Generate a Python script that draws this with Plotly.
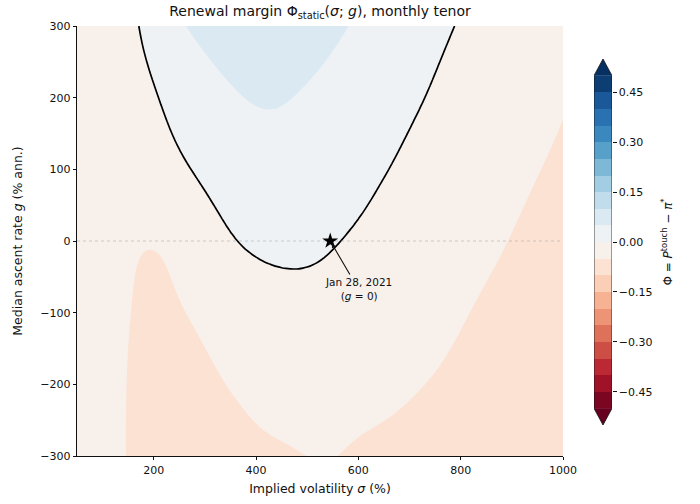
import numpy as np
import plotly.graph_objects as go

# ---- data: renewal margin Phi on an (implied vol, median ascent rate) grid ----
sigma = [50, 100, 150, 200, 250, 300, 350, 400, 450, 500,
         550, 600, 650, 700, 750, 800, 850, 900, 950, 1000]
g_rate = [-300, -250, -200, -150, -100, -50, 0, 50, 100, 150, 200, 250, 300]

phi_gm300 = [-0.018, -0.040, -0.0505, -0.063, -0.068, -0.068, -0.064, -0.058, -0.055, -0.0495,
             -0.0465, -0.057, -0.060, -0.063, -0.066, -0.069, -0.072, -0.075, -0.078, -0.081]
phi_gm250 = [-0.018, -0.040, -0.0502, -0.064, -0.068, -0.065, -0.058, -0.048, -0.043, -0.0405,
             -0.0405, -0.045, -0.049, -0.054, -0.058, -0.062, -0.066, -0.070, -0.074, -0.077]
phi_gm200 = [-0.018, -0.040, -0.0497, -0.064, -0.066, -0.059, -0.047, -0.040, -0.034, -0.031,
             -0.032, -0.036, -0.041, -0.047, -0.052, -0.057, -0.062, -0.067, -0.071, -0.075]
phi_gm150 = [-0.018, -0.039, -0.0495, -0.062, -0.061, -0.0505, -0.039, -0.030, -0.023, -0.021,
             -0.023, -0.028, -0.034, -0.040, -0.046, -0.0525, -0.058, -0.063, -0.068, -0.073]
phi_gm100 = [-0.018, -0.038, -0.049, -0.058, -0.053, -0.042, -0.029, -0.019, -0.013, -0.011,
             -0.014, -0.020, -0.027, -0.034, -0.041, -0.048, -0.054, -0.060, -0.066, -0.072]
phi_gm050 = [-0.018, -0.037, -0.048, -0.057, -0.047, -0.032, -0.016, -0.005, -0.002, -0.0015,
             -0.005, -0.012, -0.019, -0.027, -0.035, -0.043, -0.0495, -0.056, -0.062, -0.068]
phi_g000 = [-0.017, -0.035, -0.047, -0.0525, -0.043, -0.021, 0.0005, 0.006, 0.008, 0.007,
            0.002, -0.0049, -0.0127, -0.0204, -0.0281, -0.0358, -0.0435, -0.0512, -0.059, -0.0667]
phi_g050 = [-0.016, -0.032, -0.039, -0.040, -0.025, -0.004, 0.010, 0.017, 0.019, 0.016,
            0.010, 0.004, -0.0052, -0.0134, -0.0216, -0.0297, -0.0379, -0.0461, -0.0542, -0.0624]
phi_g100 = [-0.016, -0.030, -0.026, -0.017, -0.005, 0.009, 0.020, 0.028, 0.031, 0.027,
            0.018, 0.009, 0.0017, -0.0066, -0.0150, -0.0236, -0.0321, -0.0405, -0.0488, -0.0570]
phi_g150 = [-0.015, -0.027, -0.0176, -0.0081, 0.0025, 0.021, 0.033, 0.043, 0.044, 0.040,
            0.030, 0.019, 0.008, -0.0009, -0.0092, -0.0177, -0.0263, -0.0348, -0.0433, -0.0519]
phi_g200 = [-0.014, -0.024, -0.0136, -0.0045, 0.0117, 0.034, 0.046, 0.055, 0.053, 0.0435,
            0.0331, 0.0238, 0.0146, 0.0054, -0.0036, -0.0123, -0.021, -0.0297, -0.0383, -0.047]
phi_g250 = [-0.013, -0.022, -0.0102, 0.002, 0.0266, 0.048, 0.058, 0.063, 0.064, 0.060,
            0.0476, 0.0355, 0.0239, 0.0125, 0.0011, -0.0079, -0.0167, -0.0254, -0.0334, -0.042]
phi_g300 = [-0.012, -0.020, -0.010, 0.012, 0.048, 0.063, 0.070, 0.074, 0.073, 0.067,
            0.057, 0.046, 0.0325, 0.020, 0.0078, -0.0028, -0.0106, -0.0184, -0.0262, -0.034]

phi = [phi_gm300, phi_gm250, phi_gm200, phi_gm150, phi_gm100, phi_gm050, phi_g000,
       phi_g050, phi_g100, phi_g150, phi_g200, phi_g250, phi_g300]

# event marker
event_sigma = 545
event_g = 0
event_label = "Jan 28, 2021<br>(<i>g</i> = 0)"

# contour levels
lev_start, lev_end, lev_step = -0.5, 0.5, 0.05
cbar_ticks = [-0.45, -0.30, -0.15, 0.0, 0.15, 0.30, 0.45]
x_ticks = [200, 400, 600, 800, 1000]
y_ticks = [-300, -200, -100, 0, 100, 200, 300]


# ---- refine the coarse surface (Catmull-Rom + light gaussian) so contours render smoothly ----
def refine_axis(a, factor, axis):
    a = np.moveaxis(np.asarray(a, float), axis, 0)
    pad = np.concatenate([2 * a[:1] - a[1:2], a, 2 * a[-1:] - a[-2:-1]], axis=0)
    out = []
    for i in range(a.shape[0] - 1):
        p0, p1, p2, p3 = pad[i], pad[i + 1], pad[i + 2], pad[i + 3]
        for t in np.arange(factor) / factor:
            out.append(0.5 * (2 * p1 + (-p0 + p2) * t
                              + (2 * p0 - 5 * p1 + 4 * p2 - p3) * t ** 2
                              + (-p0 + 3 * p1 - 3 * p2 + p3) * t ** 3))
    out.append(a[-1])
    return np.moveaxis(np.array(out), 0, axis)


def gauss_axis(a, s, axis):
    r = int(3 * s)
    k = np.exp(-0.5 * (np.arange(-r, r + 1) / s) ** 2)
    k /= k.sum()
    a = np.moveaxis(a, axis, 0)
    p = np.pad(a, [(r, r)] + [(0, 0)] * (a.ndim - 1), mode="reflect", reflect_type="odd")
    out = np.zeros_like(a)
    for j, w in enumerate(k):
        out += w * p[j:j + a.shape[0]]
    return np.moveaxis(out, 0, axis)


REF = 6
z_fine = refine_axis(refine_axis(phi, REF, 1), REF, 0)
z_fine = gauss_axis(gauss_axis(z_fine, 3.6, 1), 3.6, 0)
sigma_fine = np.linspace(sigma[0], sigma[-1], (len(sigma) - 1) * REF + 1)
g_fine = np.linspace(g_rate[0], g_rate[-1], (len(g_rate) - 1) * REF + 1)

# ---- colours: discrete RdBu bands ----
RDBU = ["#67001f", "#b2182b", "#d6604d", "#f4a582", "#fddbc7", "#f7f7f7",
        "#d1e5f0", "#92c5de", "#4393c3", "#2166ac", "#053061"]


def hex2rgb(h):
    h = h.lstrip("#")
    return [int(h[i:i + 2], 16) for i in (0, 2, 4)]


def rdbu(t):
    t = min(max(t, 0.0), 1.0) * (len(RDBU) - 1)
    i = min(int(t), len(RDBU) - 2)
    f = t - i
    a, b = hex2rgb(RDBU[i]), hex2rgb(RDBU[i + 1])
    c = [round(a[k] + (b[k] - a[k]) * f) for k in range(3)]
    return "rgb(%d,%d,%d)" % tuple(c)


n_bands = int(round((lev_end - lev_start) / lev_step))
band_mid = [lev_start + lev_step * (i + 0.5) for i in range(n_bands)]
band_col = [rdbu((m - lev_start) / (lev_end - lev_start)) for m in band_mid]
under_col, over_col = RDBU[0], RDBU[-1]

# colour domain used by plotly for filled contours: [start - step/2, end + step/2]
z_lo = lev_start - lev_step / 2
z_hi = lev_end + lev_step / 2
span = z_hi - z_lo
edges = [(lev_step / 2 + lev_step * k) / span for k in range(n_bands + 1)]
cscale = [[0.0, under_col], [edges[0], under_col]]
for i in range(n_bands):
    cscale.append([edges[i], band_col[i]])
    cscale.append([edges[i + 1], band_col[i]])
cscale += [[edges[-1], over_col], [1.0, over_col]]

FONT = "DejaVu Sans"
INK = "#111111"

fig = go.Figure()

# filled contours
fig.add_trace(go.Contour(
    x=sigma_fine, y=g_fine, z=z_fine,
    autocontour=False,
    contours=dict(start=lev_start, end=lev_end, size=lev_step,
                  coloring="fill", showlines=False),
    line=dict(width=0, smoothing=1),
    colorscale=cscale, showscale=False, hoverinfo="skip",
))

# reference line g = 0
fig.add_trace(go.Scatter(
    x=[sigma[0], sigma[-1]], y=[0, 0], mode="lines",
    line=dict(color="rgba(150,150,150,0.55)", width=0.8, dash="dot"),
    hoverinfo="skip",
))

# zero-margin boundary
fig.add_trace(go.Contour(
    x=sigma_fine, y=g_fine, z=z_fine,
    autocontour=False,
    contours=dict(start=0, end=0, size=lev_step, coloring="none"),
    line=dict(color="black", width=1.7, smoothing=1),
    showscale=False, hoverinfo="skip",
))

# event star
fig.add_trace(go.Scatter(
    x=[event_sigma], y=[event_g], mode="markers",
    marker=dict(symbol="star", size=12, color="black"),
    hoverinfo="skip",
))

# colour bar drawn on its own axes
fig.add_trace(go.Heatmap(
    x=[0], y=band_mid, z=[[m] for m in band_mid],
    zmin=z_lo, zmax=z_hi, colorscale=cscale, showscale=False,
    xaxis="x2", yaxis="y2", hoverinfo="skip",
))
ext = lev_step
fig.add_trace(go.Scatter(
    x=[-0.5, 0.5, 0, -0.5], y=[lev_end, lev_end, lev_end + ext, lev_end],
    mode="lines", fill="toself", fillcolor=over_col, line=dict(width=0),
    xaxis="x2", yaxis="y2", hoverinfo="skip",
))
fig.add_trace(go.Scatter(
    x=[-0.5, 0.5, 0, -0.5], y=[lev_start, lev_start, lev_start - ext, lev_start],
    mode="lines", fill="toself", fillcolor=under_col, line=dict(width=0),
    xaxis="x2", yaxis="y2", hoverinfo="skip",
))
fig.add_trace(go.Scatter(
    x=[-0.5, 0, 0.5, 0.5, 0, -0.5, -0.5],
    y=[lev_start, lev_start - ext, lev_start, lev_end, lev_end + ext, lev_end, lev_start],
    mode="lines", line=dict(color=INK, width=0.8),
    xaxis="x2", yaxis="y2", hoverinfo="skip",
))

# layout geometry (pixels)
W, H = 700, 504
ML, MR, MT, MB = 77, 20, 26, 48
pw = W - ML - MR
ph = H - MT - MB
plot_right = 563
cb_left, cb_right = 594, 612
cb_top, cb_bot = 59, 425

axis_common = dict(
    showgrid=False, zeroline=False, ticks="outside", ticklen=3.5, tickwidth=0.8,
    tickcolor=INK, showline=True, linecolor=INK, linewidth=0.8,
    tickfont=dict(family=FONT, size=11, color=INK),
)

fig.update_layout(
    template="none",
    width=W, height=H,
    margin=dict(l=ML, r=MR, t=MT, b=MB),
    paper_bgcolor="white", plot_bgcolor="white",
    font=dict(family=FONT, size=11, color=INK),
    showlegend=False,
    title=dict(
        text="Renewal margin Φ<sub>static</sub>(<i>σ</i>; <i>g</i>), monthly tenor",
        x=((plot_right + ML) / 2 - ML) / pw, xref="paper", xanchor="center",
        y=1 - 11 / H, yref="container", yanchor="middle",
        font=dict(family=FONT, size=14, color=INK),
    ),
    xaxis=dict(
        axis_common, domain=[0, (plot_right - ML) / pw], range=[sigma[0], sigma[-1]],
        tickvals=x_ticks, anchor="y",
        title=dict(text="Implied volatility <i>σ</i> (%)", standoff=8,
                   font=dict(family=FONT, size=12.5, color=INK)),
    ),
    yaxis=dict(
        axis_common, domain=[0, 1], range=[g_rate[0], g_rate[-1]],
        tickvals=y_ticks, anchor="x",
        title=dict(text="Median ascent rate <i>g</i> (% ann.)", standoff=14,
                   font=dict(family=FONT, size=12.5, color=INK)),
    ),
    xaxis2=dict(
        domain=[(cb_left - ML) / pw, (cb_right - ML) / pw], range=[-0.5, 0.5],
        visible=False, anchor="y2", fixedrange=True,
    ),
    yaxis2=dict(
        domain=[(MT + ph - cb_bot) / ph, (MT + ph - cb_top) / ph],
        range=[lev_start - ext, lev_end + ext], anchor="x2", side="right",
        showgrid=False, zeroline=False, showline=False,
        ticks="outside", ticklen=3.5, tickwidth=0.8, tickcolor=INK,
        tickvals=cbar_ticks, tickformat=".2f",
        tickfont=dict(family=FONT, size=11, color=INK),
        title=dict(text="Φ = <i>P</i><sup>touch</sup> − <i>π</i><sup>*</sup>", standoff=12,
                   font=dict(family=FONT, size=12, color=INK)),
        fixedrange=True,
    ),
    annotations=[dict(
        x=event_sigma, y=event_g, xref="x", yref="y",
        ax=600, ay=-67, axref="x", ayref="y",
        text=event_label, showarrow=True, arrowhead=2, arrowsize=0.8,
        arrowwidth=1.1, arrowcolor=INK, standoff=3,
        font=dict(family=FONT, size=10.5, color=INK), align="center",
    )],
)

fig.write_html("out.html", config=dict(displayModeBar=False))
